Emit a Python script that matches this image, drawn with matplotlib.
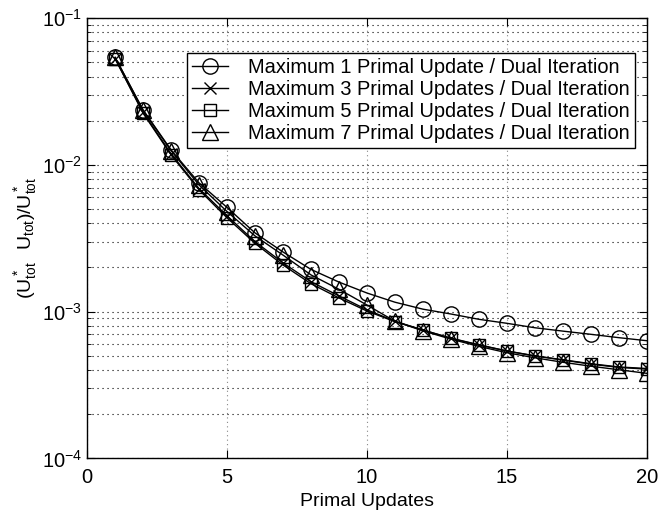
import matplotlib
matplotlib.use("Agg")
import matplotlib.pyplot as plt
from matplotlib.ticker import LogLocator, FixedLocator

plt.rcParams['font.family'] = ['Liberation Sans', 'DejaVu Sans']
plt.rcParams['mathtext.default'] = 'regular'

x = list(range(1, 21))
max1 = [0.054, 0.0237, 0.01264, 0.00754, 0.00513, 0.00344, 0.00255, 0.00194, 0.00159, 0.00134,
        0.00116, 0.00104, 9.64e-4, 8.87e-4, 8.33e-4, 7.77e-4, 7.37e-4, 7.01e-4, 6.65e-4, 6.34e-4]
max3 = [0.053, 0.0228, 0.0119, 0.0069, 0.0045, 0.0030, 0.00215, 0.0016, 0.00128, 1.03e-3,
        8.6e-4, 7.5e-4, 6.6e-4, 5.95e-4, 5.4e-4, 5.0e-4, 4.7e-4, 4.42e-4, 4.2e-4, 4.1e-4]
max5 = [0.053, 0.0225, 0.0117, 0.00676, 0.00436, 0.00292, 0.00208, 0.00155, 0.00124, 1.01e-3,
        8.55e-4, 7.5e-4, 6.58e-4, 5.92e-4, 5.39e-4, 4.99e-4, 4.68e-4, 4.39e-4, 4.17e-4, 4.06e-4]
max7 = [0.054, 0.0235, 0.0125, 0.0073, 0.00481, 0.00328, 0.00243, 0.00178, 0.00142, 1.11e-3,
        8.6e-4, 7.4e-4, 6.5e-4, 5.8e-4, 5.25e-4, 4.85e-4, 4.52e-4, 4.25e-4, 4.02e-4, 3.8e-4]
labels = ['Maximum 1 Primal Update / Dual Iteration',
          'Maximum 3 Primal Updates / Dual Iteration',
          'Maximum 5 Primal Updates / Dual Iteration',
          'Maximum 7 Primal Updates / Dual Iteration']
xticks = [0, 5, 10, 15, 20]

fig = plt.figure(figsize=(6.6, 5.18), dpi=100)
ax = fig.add_axes([0.132, 0.115, 0.848, 0.850])

series = [(max1, 'o', 11), (max3, 'x', 9), (max5, 's', 9), (max7, '^', 12)]
for (vals, m, ms), lab in zip(series, labels):
    ax.semilogy(x, vals, color='k', lw=1.0, marker=m, ms=ms, mfc='none',
                mec='k', mew=1.0, label=lab)

ax.set_xlim(0, 20)
ax.set_ylim(1e-4, 1e-1)
ax.xaxis.set_major_locator(FixedLocator(xticks))
ax.yaxis.set_major_locator(LogLocator(base=10, numticks=10))
ax.yaxis.set_minor_locator(LogLocator(base=10, subs=range(2, 10), numticks=20))

ax.grid(True, which='major', axis='x', color='#888888', linestyle=(0, (1, 3)), lw=0.8)
ax.grid(True, which='both', axis='y', color='k', linestyle=(0, (1, 3.5)), lw=0.8)

ax.tick_params(which='both', direction='in', top=True, right=True, labelsize=14.5)
ax.tick_params(which='major', length=6)
ax.tick_params(which='minor', length=3)
ax.tick_params(axis='x', pad=7)
for s in ax.spines.values():
    s.set_linewidth(1.0)

ax.set_xlabel('Primal Updates', fontsize=14, labelpad=4)
ax.set_ylabel('$(U^*_{tot}\\ \\ U_{tot})/U^*_{tot}$', fontsize=14, labelpad=2)

leg = ax.legend(loc='upper right', bbox_to_anchor=(0.979, 0.921), fontsize=14.4,
                frameon=True, fancybox=False, edgecolor='k', framealpha=1,
                handlelength=1.8, labelspacing=0.15, borderpad=0.25, handletextpad=1.0,
                borderaxespad=0)
leg.get_frame().set_linewidth(1.0)

fig.savefig('out.png', dpi=100)
